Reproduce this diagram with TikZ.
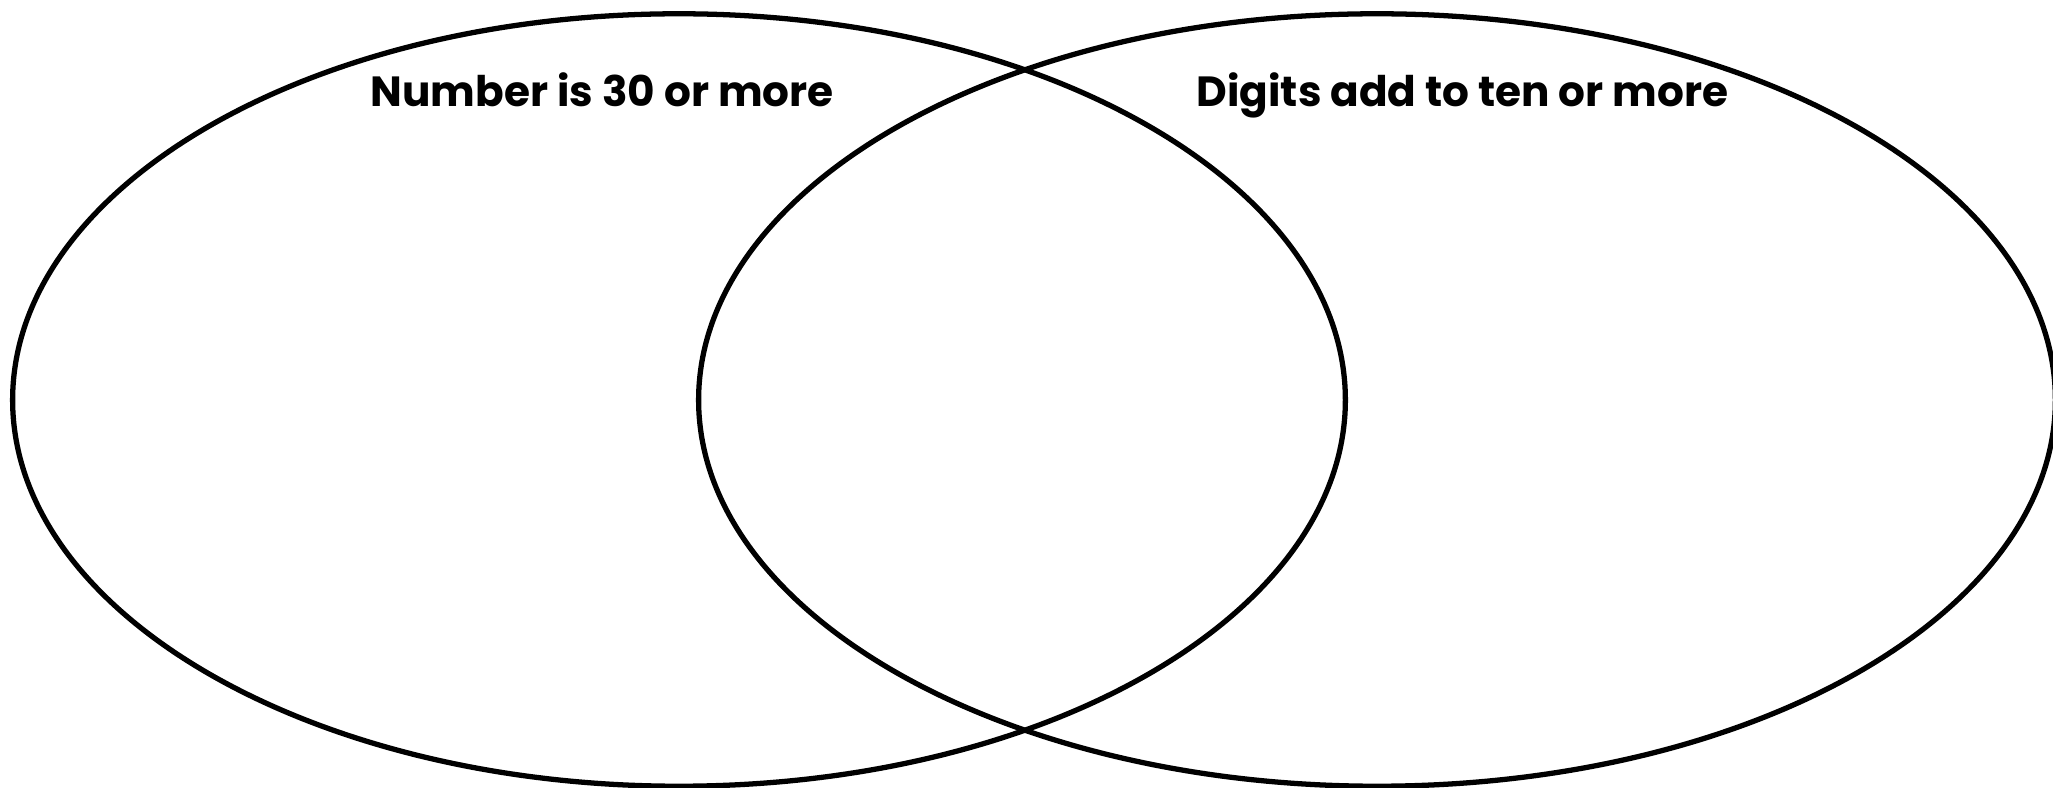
\documentclass[tikz,border=0pt]{standalone}
\usepackage{fontspec}
\setmainfont{Poppins}
\usetikzlibrary{shapes.geometric}

\begin{document}
\begin{tikzpicture}[
  x=0.01cm, y=-0.01cm,
  set/.style={draw, ellipse, inner sep=0pt, line width=1.5pt,
              minimum width=13.32cm, minimum height=7.72cm},
  title/.style={font=\fontsize{12}{14}\selectfont\bfseries, anchor=base west, inner sep=0pt},
]
\useasboundingbox (0,0) rectangle (2053,788);

\node[set] (numset) at (679,400) {};
\node[set, minimum width=13.56cm] (digset) at (1377,400) {};

\node[title] (numlbl) at (370,107) {Number is 30 or more};
\node[title] (diglbl) at (1196,107) {Digits add to ten or more};
\end{tikzpicture}
\end{document}
